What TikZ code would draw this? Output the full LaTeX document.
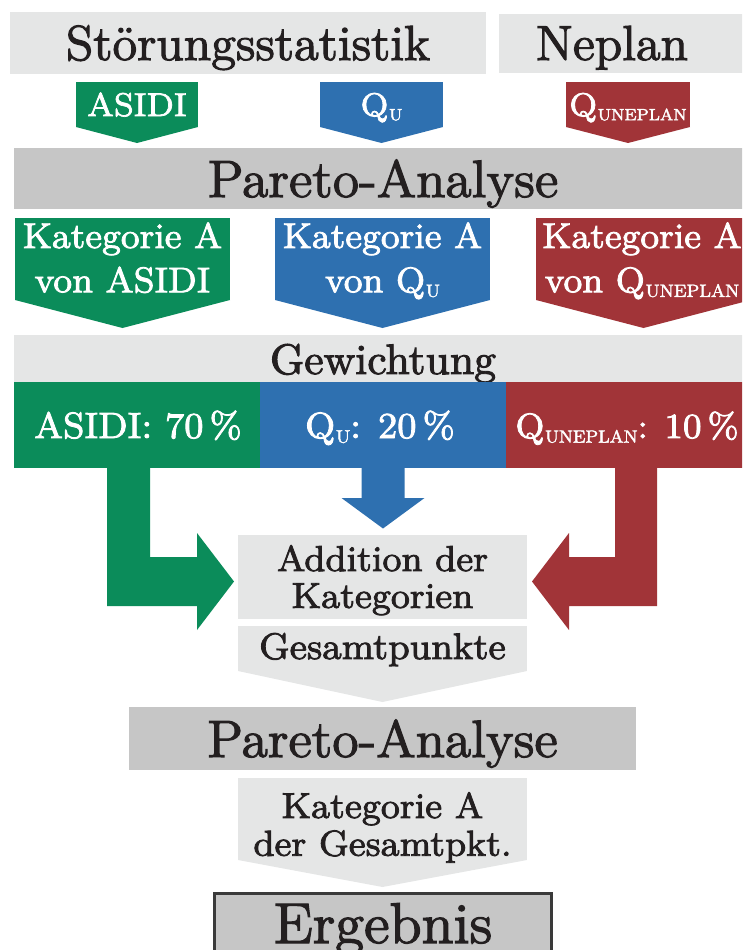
\documentclass[tikz,border=0pt]{standalone}
\usepackage{graphicx}
\usepackage{fontspec}
\setmainfont{Latin Modern Roman}[FakeBold=2.2]
\usetikzlibrary{calc}

\definecolor{stgreen}{RGB}{11,140,90}
\definecolor{stblue}{RGB}{46,112,176}
\definecolor{stred}{RGB}{161,52,56}
\definecolor{lightbar}{RGB}{229,230,230}
\definecolor{midbar}{RGB}{198,198,198}
\definecolor{inkdark}{RGB}{35,31,32}
\definecolor{frameedge}{RGB}{58,58,58}

% text set small and enlarged, one or more centred lines; baseline = first line
\newcommand\lbl[3]{\scalebox{4.2}[4.1]{\fontsize{#1}{#2}\selectfont
  \begin{tabular}[t]{@{}c@{}}#3\end{tabular}}}
% quantity symbols with a small, lowered index
\newcommand\idx[1]{\kern0.02em\raisebox{-0.3ex}{\scalebox{0.5}{#1}}}
\newcommand\QU{Q\idx{U}}
\newcommand\QN{Q\idx{UNEPLAN}}

\tikzset{
  panel/.style={rectangle, inner sep=0pt, outer sep=0pt, draw=none, fill=#1},
  label/.style={inner sep=0pt, outer sep=0pt, anchor=base, text=inkdark},
  wlabel/.style={label, text=white},
}

\begin{document}
\begin{tikzpicture}[x=1pt, y=-1pt]
  \useasboundingbox (0,0) rectangle (742,950);
  \clip (0,0) rectangle (742,950);

  % --- sources -------------------------------------------------------
  \node[panel=lightbar, minimum width=476, minimum height=62] (stoer) at (248,43) {};
  \node[panel=lightbar, minimum width=249, minimum height=59] (neplan) at (623.5,43.5) {};
  \node[label] (stoer-t) at (248,60) {\lbl{12}{14}{Störungsstatistik}};
  \node[label] (neplan-t) at (612,60) {\lbl{12}{14}{Neplan}};

  % --- indicator tags --------------------------------------------------
  \node[panel=stgreen, minimum width=122, minimum height=45] (sA) at (137,104.5) {};
  \node[panel=stblue,  minimum width=123, minimum height=45] (sB) at (381.5,104.5) {};
  \node[panel=stred,   minimum width=124, minimum height=45] (sC) at (628,104.5) {};
  \fill[stgreen] (sA.south west) -- (sA.south east) -- ($(sA.south)+(0,16)$) -- cycle;
  \fill[stblue]  (sB.south west) -- (sB.south east) -- ($(sB.south)+(0,16)$) -- cycle;
  \fill[stred]   (sC.south west) -- (sC.south east) -- ($(sC.south)+(0,16)$) -- cycle;
  \node[wlabel] (sA-t) at (137,116) {\lbl{8}{10}{ASIDI}};
  \node[wlabel] (sB-t) at (381.5,116) {\lbl{8}{10}{\QU}};
  \node[wlabel] (sC-t) at (628,116) {\lbl{8}{10}{\QN}};

  % --- first Pareto analysis -----------------------------------------
  \node[panel=midbar, minimum width=740, minimum height=61] (par1) at (384,178.5) {};
  \node[label] (par1-t) at (383,197) {\lbl{12.8}{15}{Pareto-Analyse}};

  % --- category A per indicator ---------------------------------------
  \node[panel=stgreen, minimum width=215, minimum height=82] (kA) at (122.5,259) {};
  \node[panel=stblue,  minimum width=215, minimum height=82] (kB) at (382.5,259) {};
  \node[panel=stred,   minimum width=215, minimum height=82] (kC) at (643.5,259) {};
  \fill[stgreen] (kA.south west) -- (kA.south east) -- ($(kA.south)+(0,28)$) -- cycle;
  \fill[stblue]  (kB.south west) -- (kB.south east) -- ($(kB.south)+(0,28)$) -- cycle;
  \fill[stred]   (kC.south west) -- (kC.south east) -- ($(kC.south)+(0,28)$) -- cycle;
  \node[wlabel] (kA-t) at (122.5,248) {\lbl{8.7}{10.8}{Kategorie A\\von ASIDI}};
  \node[wlabel] (kB-t) at (382.5,248) {\lbl{8.7}{10.8}{Kategorie A\\von \QU}};
  \node[wlabel] (kC-t) at (642,248) {\lbl{8.7}{10.8}{Kategorie A\\von \QN}};

  % --- weighting --------------------------------------------------------
  \node[panel=lightbar, minimum width=740, minimum height=47] (gew) at (384,358.5) {};
  \node[label] (gew-t) at (383,374) {\lbl{10.4}{12}{Gewichtung}};
  \node[panel=stgreen, minimum width=246, minimum height=86] (wA) at (137,425) {};
  \node[panel=stblue,  minimum width=246, minimum height=86] (wB) at (383,425) {};
  \node[panel=stred,   minimum width=246, minimum height=86] (wC) at (629,425) {};
  \node[wlabel] (wA-t) at (138,438) {\lbl{8.9}{11}{ASIDI: 70\,\%}};
  \node[wlabel] (wB-t) at (380,438) {\lbl{8.9}{11}{\QU: 20\,\%}};
  \node[wlabel] (wC-t) at (627,438) {\lbl{8.6}{11}{\QN: 10\,\%}};

  % --- summation ----------------------------------------------------------
  \node[panel=lightbar, minimum width=289, minimum height=84] (add) at (382.5,577) {};
  \node[label] (add-t) at (382.5,571) {\lbl{8.8}{9}{Addition der\\Kategorien}};
  \node[panel=lightbar, minimum width=289, minimum height=45] (ges) at (382.5,648.5) {};
  \fill[lightbar] (ges.south west) -- (ges.south east) -- ($(ges.south)+(0,31)$) -- cycle;
  \node[label] (ges-t) at (382.5,659) {\lbl{9}{11}{Gesamtpunkte}};

  % block arrows from the weights into the summation
  \fill[stgreen] ($(wA.south west)+(93,0)$) -- ++(43,0) -- ++(0,89) -- ++(47,0)
    -- ++(0,-24) -- ++(37,48.5) -- ++(-37,48.5) -- ++(0,-24) -- ++(-90,0) -- cycle;
  \fill[stblue] ($(wB.south)+(-21.5,0)$) -- ++(43,0) -- ++(0,30) -- ++(20,0)
    -- ++(-41.5,30.5) -- ++(-41.5,-30.5) -- ++(20,0) -- cycle;
  \fill[stred] ($(wC.south west)+(109,0)$) -- ++(42,0) -- ++(0,138) -- ++(-88,0)
    -- ++(0,24) -- ++(-37,-48.5) -- ++(37,-48.5) -- ++(0,24) -- ++(46,0) -- cycle;

  % --- second Pareto analysis and result ---------------------------------
  \node[panel=midbar, minimum width=507, minimum height=63] (par2) at (382.5,738.5) {};
  \node[label] (par2-t) at (382.5,757) {\lbl{12.8}{15}{Pareto-Analyse}};
  \node[panel=lightbar, minimum width=289, minimum height=82] (katG) at (382.5,819) {};
  \fill[lightbar] (katG.south west) -- (katG.south east) -- ($(katG.south)+(0,27)$) -- cycle;
  \node[label] (katG-t) at (382.5,818) {\lbl{8.8}{9.2}{Kategorie A\\der Gesamtpkt.}};
  \node[panel=midbar, draw=frameedge, line width=3pt, minimum width=337, minimum height=70] (erg) at (383,928) {};
  \node[label] (erg-t) at (383,943) {\lbl{14}{15}{Ergebnis}};
\end{tikzpicture}
\end{document}
